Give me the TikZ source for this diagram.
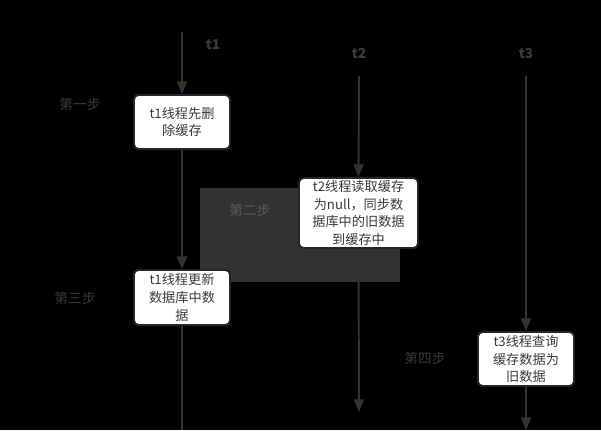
\documentclass[tikz,border=0pt]{standalone}
\usepackage{fontspec}
\setmainfont{Noto Sans CJK SC}
\usetikzlibrary{arrows.meta}
\definecolor{linegray}{HTML}{333333}
\definecolor{boxline}{HTML}{1B2733}
\definecolor{boxtext}{HTML}{3A3A3A}
\definecolor{labelgray}{HTML}{3A3A3A}
\definecolor{shadegray}{HTML}{323232}
\begin{document}
\begin{tikzpicture}[x=0.02cm,y=-0.02cm,
    threadbox/.style={draw=boxline,line width=1.1pt,rounded corners=2.5pt,fill=white,text=boxtext,
      align=center,inner sep=0pt,minimum width=1.92cm,font=\fontsize{7.5}{10.2}\selectfont},
    flow/.style={draw=linegray,line width=1.1pt},
    tip/.style={-{Triangle[width=5.7pt,length=7.2pt]}},
    steplabel/.style={text=labelgray,font=\fontsize{7.8}{8}\selectfont}]
		\fill[black] (0,0) rectangle (601,430);
		\useasboundingbox (0,0) rectangle (601,430);
		\fill[shadegray] (200,188) rectangle (400,282);
		% threads
		\node[steplabel,font=\fontsize{7.8}{8}\selectfont\bfseries] (t1) at (213,45) {t1};
		\node[steplabel,font=\fontsize{7.8}{8}\selectfont\bfseries] (t2) at (359,54) {t2};
		\node[steplabel,font=\fontsize{7.8}{8}\selectfont\bfseries] (t3) at (526,54) {t3};
		\coordinate (t1top) at (182,32);
		\coordinate (t1end) at (182,430);
		\coordinate (t2top) at (359,76);
		\coordinate (t2end) at (359,412);
		\coordinate (t3top) at (526,76);
		\coordinate (t3end) at (526,430);
		% boxes
		\node[threadbox,minimum height=1.08cm] (delcache) at (182,122) {t1线程先删\\除缓存};
		\node[threadbox,minimum width=2.38cm,minimum height=1.4cm] (readcache) at (358.5,213) {t2线程读取缓存\\为null，同步数\\据库中的旧数据\\到缓存中};
		\node[threadbox,minimum height=1.1cm] (updatedb) at (182,297.5) {t1线程更新\\数据库中数\\据};
		\node[threadbox,minimum height=1.08cm] (querycache) at (526,359) {t3线程查询\\缓存数据为\\旧数据};
		% steps
		\node[steplabel] (s1) at (80,104) {第一步};
		\node[steplabel,text=gray!70!black] (s2) at (250,210) {第二步};
		\node[steplabel] (s3) at (75,298) {第三步};
		\node[steplabel] (s4) at (425,358) {第四步};
		% connectors
		\draw[flow,tip] (t1top) -- (delcache.north);
		\draw[flow,tip] (delcache.south) -- (updatedb.north);
		\draw[flow] (updatedb.south) -- (t1end);
		\draw[flow,tip] (t2top) -- (readcache.north);
		\draw[flow,tip] (readcache.south) -- (t2end);
		\draw[flow,tip] (t3top) -- (querycache.north);
		\draw[flow,tip] (querycache.south) -- (t3end);
\end{tikzpicture}
\end{document}
